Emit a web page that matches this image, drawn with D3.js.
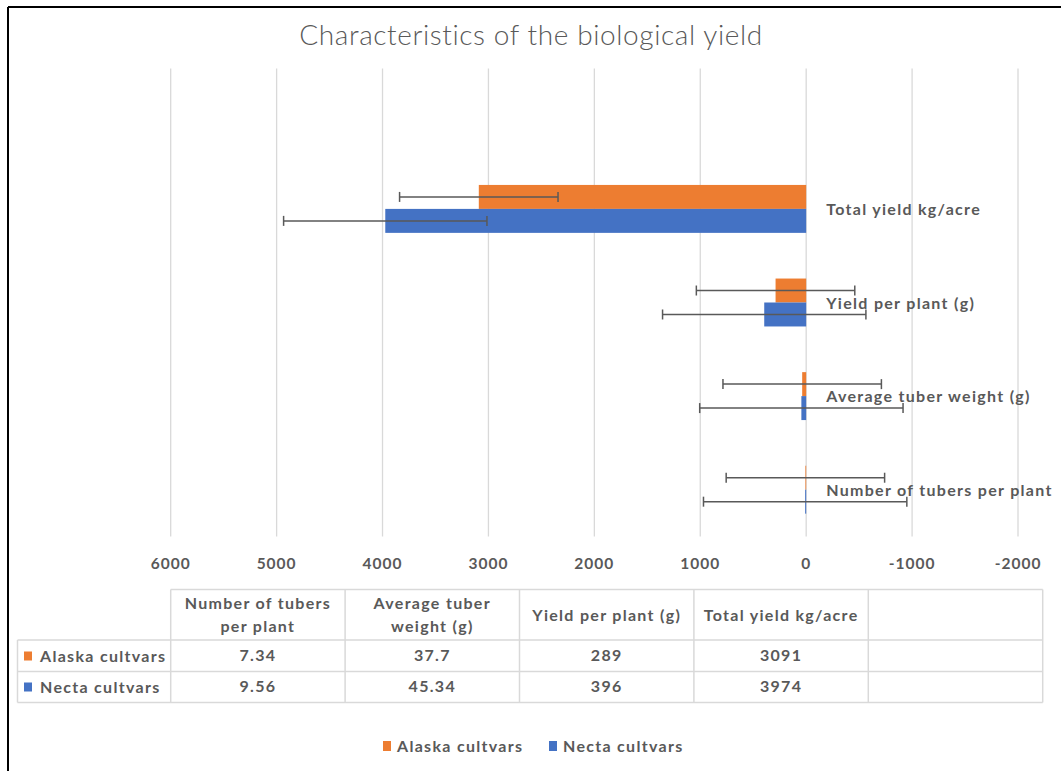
<!DOCTYPE html>
<html>
<head>
<meta charset="utf-8">
<script src="https://cdn.jsdelivr.net/npm/d3@7"></script>
<style>
  body { margin: 0; background: #fff; }
  text { font-family: Lato, "Open Sans", sans-serif; fill: #595959; }
  .lbl { font-size: 16px; font-weight: 700; letter-spacing: 1.3px; }
</style>
</head>
<body>
<svg id="chart" width="1061" height="771"></svg>
<script>
// categories bottom -> top (the last one is an empty slot, like the original sheet)
const categories = [
  "Number of tubers per plant",
  "Average tuber weight (g)",
  "Yield per plant (g)",
  "Total yield kg/acre",
  ""
];
const seriesNames = ["Alaska cultvars", "Necta cultvars"];
const alaskaValues = [7.34, 37.7, 289, 3091, null];
const nectaValues = [9.56, 45.34, 396, 3974, null];
// error bar half-widths
const alaskaErrors = [748, 748, 748, 748, null];
const nectaErrors = [960, 960, 960, 960, null];
const tableLabels = ["7.34", "37.7", "289", "3091", ""];
const tableLabelsNecta = ["9.56", "45.34", "396", "3974", ""];
const tableHeaders = [
  ["Number of tubers", "per plant"],
  ["Average tuber", "weight (g)"],
  ["Yield per plant (g)"],
  ["Total yield kg/acre"],
  [""]
];
const xTicks = [6000, 5000, 4000, 3000, 2000, 1000, 0, -1000, -2000];
const colors = ["#ED7D31", "#4472C4"];

const svg = d3.select("#chart");

var margin = { top: 68.5, left: 170.7, bottom: 536.5 };

// frame
svg.append("line").attr("x1", 8).attr("x2", 1061).attr("y1", 7).attr("y2", 7)
  .attr("stroke", "#000").attr("stroke-width", 2);
svg.append("line").attr("x1", 8).attr("x2", 8).attr("y1", 7).attr("y2", 771)
  .attr("stroke", "#000").attr("stroke-width", 2);

svg.append("text")
  .attr("x", 531)
  .attr("y", 45)
  .attr("text-anchor", "middle")
  .style("font-size", "28px")
  .style("font-weight", 300)
  .style("letter-spacing", "0.6px")
  .text("Characteristics of the biological yield");

var xScale = d3.scaleLinear().domain([6000, -2000]).range([170.7, 1018]);
var yScale = d3.scaleBand()
  .domain(categories)
  .range([margin.bottom, margin.top])
  .paddingInner(0.488)
  .paddingOuter(0.244);
var ySub = d3.scaleBand().domain(seriesNames).range([0, yScale.bandwidth()]);

// gridlines
svg.append("g")
  .selectAll("line")
  .data(xTicks)
  .join("line")
  .attr("x1", (d) => xScale(d))
  .attr("x2", (d) => xScale(d))
  .attr("y1", margin.top)
  .attr("y2", margin.bottom)
  .attr("stroke", "#d9d9d9")
  .attr("stroke-width", 1.3);

// tick labels
svg.append("g")
  .selectAll("text")
  .data(xTicks)
  .join("text")
  .attr("x", (d) => xScale(d))
  .attr("y", 569)
  .attr("text-anchor", "middle")
  .style("font-size", "15.5px")
  .style("font-weight", 700)
  .style("letter-spacing", "1px")
  .text((d) => d);

const series = [
  { name: seriesNames[0], values: alaskaValues, errors: alaskaErrors, color: colors[0] },
  { name: seriesNames[1], values: nectaValues, errors: nectaErrors, color: colors[1] }
];

series.forEach(function (s) {
  const rows = categories
    .map((c, i) => ({ cat: c, value: s.values[i], err: s.errors[i] }))
    .filter((d) => d.value !== null);

  svg.append("g")
    .selectAll("rect")
    .data(rows)
    .join("rect")
    .attr("x", (d) => xScale(d.value))
    .attr("y", (d) => yScale(d.cat) + ySub(s.name))
    .attr("width", (d) => xScale(0) - xScale(d.value))
    .attr("height", ySub.bandwidth())
    .attr("fill", s.color);
});

// error bars drawn on top of both series
series.forEach(function (s) {
  const rows = categories
    .map((c, i) => ({ cat: c, value: s.values[i], err: s.errors[i] }))
    .filter((d) => d.value !== null);
  const g = svg.append("g").attr("stroke", "#595959").attr("stroke-width", 1.5);
  rows.forEach(function (d) {
    const cy = yScale(d.cat) + ySub(s.name) + ySub.bandwidth() / 2;
    const x0 = xScale(d.value + d.err);
    const x1 = xScale(d.value - d.err);
    g.append("line").attr("x1", x0).attr("x2", x1).attr("y1", cy).attr("y2", cy);
    g.append("line").attr("x1", x0).attr("x2", x0).attr("y1", cy - 5).attr("y2", cy + 5);
    g.append("line").attr("x1", x1).attr("x2", x1).attr("y1", cy - 5).attr("y2", cy + 5);
  });
});

// category labels next to the zero axis
svg.append("g")
  .selectAll("text")
  .data(categories)
  .join("text")
  .attr("class", "lbl")
  .attr("x", xScale(0) + 20)
  .attr("y", (d) => yScale(d) + yScale.bandwidth() / 2 + 6)
  .text((d) => d);

// data table
const tableTop = 589.5, headerBottom = 640, row1Bottom = 671.5, row2Bottom = 702.5;
const tableLeft = 17.5, tableRight = 1042.7;
const colScale = d3.scaleBand().domain(categories.map((c, i) => i)).range([170.7, tableRight]);
const tg = svg.append("g");
const gridColor = "#d9d9d9";

function hline(x1, x2, y) {
  tg.append("line").attr("x1", x1).attr("x2", x2).attr("y1", y).attr("y2", y)
    .attr("stroke", gridColor).attr("stroke-width", 1.5);
}
function vline(x, y1, y2) {
  tg.append("line").attr("x1", x).attr("x2", x).attr("y1", y1).attr("y2", y2)
    .attr("stroke", gridColor).attr("stroke-width", 1.5);
}
hline(170.7, tableRight, tableTop);
hline(tableLeft, tableRight, headerBottom);
hline(tableLeft, tableRight, row1Bottom);
hline(tableLeft, tableRight, row2Bottom);
vline(tableLeft, headerBottom, row2Bottom);
categories.forEach(function (c, i) {
  vline(colScale(i), tableTop, row2Bottom);
});
vline(tableRight, tableTop, row2Bottom);

categories.forEach(function (c, i) {
  const cx = colScale(i) + colScale.bandwidth() / 2;
  const lines = tableHeaders[i];
  lines.forEach(function (t, j) {
    tg.append("text")
      .attr("class", "lbl")
      .attr("x", cx)
      .attr("y", lines.length === 2 ? 609 + j * 23 : 621)
      .attr("text-anchor", "middle")
      .text(t);
  });
  tg.append("text").attr("class", "lbl").attr("x", cx).attr("y", 661)
    .attr("text-anchor", "middle").text(tableLabels[i]);
  tg.append("text").attr("class", "lbl").attr("x", cx).attr("y", 692)
    .attr("text-anchor", "middle").text(tableLabelsNecta[i]);
});

seriesNames.forEach(function (name, i) {
  const cy = i === 0 ? 656 : 687;
  tg.append("rect").attr("x", 24).attr("y", cy - 4.5).attr("width", 8).attr("height", 9)
    .attr("fill", colors[i]);
  tg.append("text").attr("class", "lbl").attr("x", 40).attr("y", cy + 6).text(name);
});

// legend
const legendX = [383, 549];
seriesNames.forEach(function (name, i) {
  svg.append("rect").attr("x", legendX[i]).attr("y", 741).attr("width", 8).attr("height", 10)
    .attr("fill", colors[i]);
  svg.append("text").attr("class", "lbl").attr("x", legendX[i] + 14).attr("y", 752).text(name);
});
</script>
</body>
</html>
